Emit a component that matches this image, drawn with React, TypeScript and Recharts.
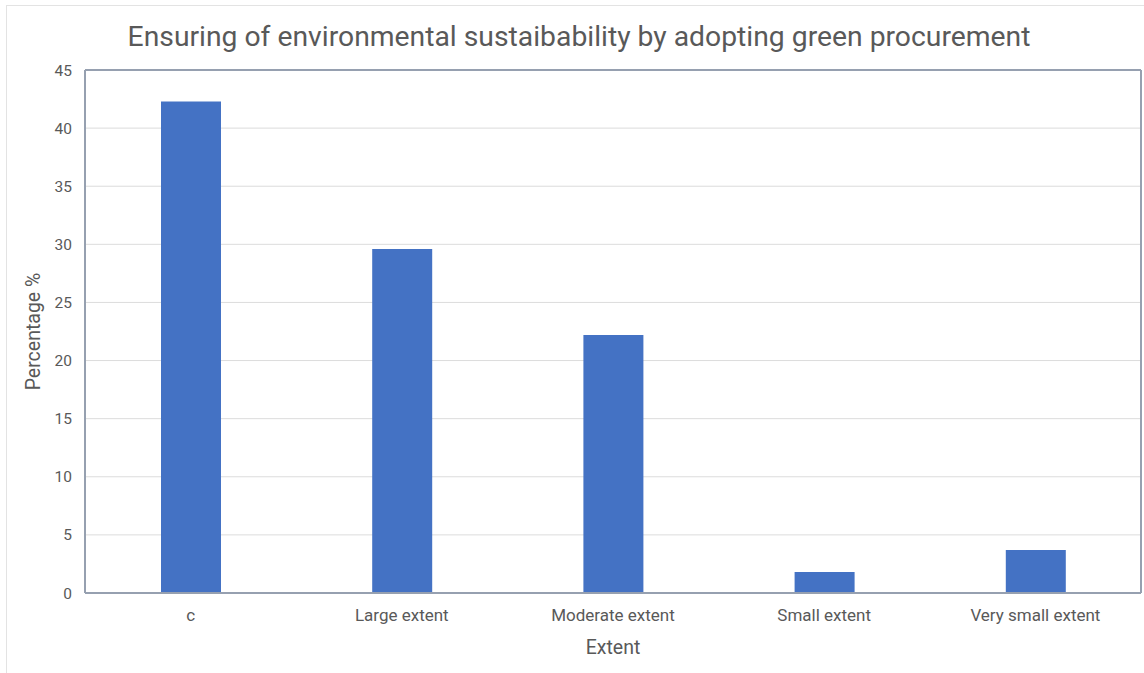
import React from 'react';
import { BarChart, Bar, XAxis, YAxis, CartesianGrid, ReferenceLine, Label } from 'recharts';

document.body.style.margin = '0';

const categories = ['c', 'Large extent', 'Moderate extent', 'Small extent', 'Very small extent'];
const percentages = [42.3, 29.6, 22.2, 1.8, 3.7];
const yTicks = [0, 5, 10, 15, 20, 25, 30, 35, 40, 45];

const chartData = categories.map((name, i) => ({ name, value: percentages[i] }));

const axisColor = '#96a0b0';
const textColor = '#595959';
const font = 'Roboto, "Noto Sans", sans-serif';

const App: React.FC = () => {
  return (
    <div style={{ position: 'relative', width: 1144, height: 673, background: '#fff', overflow: 'hidden', fontFamily: font }}>
      <div
        style={{
          position: 'absolute',
          left: 6,
          top: 5,
          width: 1150,
          height: 680,
          border: '1px solid #e3e3e3',
          boxSizing: 'border-box',
        }}
      />
      <div
        style={{
          position: 'absolute',
          top: 20,
          left: 0,
          width: 1158,
          textAlign: 'center',
          fontSize: 28.3,
          color: textColor,
        }}
      >
        Ensuring of environmental sustaibability by adopting green procurement
      </div>
      <div style={{ position: 'absolute', left: 0, top: 0 }}>
        <BarChart
          width={1144}
          height={673}
          data={chartData}
          margin={{ top: 70, right: 0, left: 0, bottom: 0 }}
        >
          <CartesianGrid vertical={false} stroke="#dcdcdc" />
          <XAxis
            dataKey="name"
            height={80}
            tickLine={false}
            axisLine={{ stroke: axisColor, strokeWidth: 2 }}
            tick={{ fill: textColor, fontSize: 17, fontFamily: font }}
            tickMargin={10}
          >
            <Label value="Extent" position="insideBottom" offset={19} style={{ fill: textColor, fontSize: 19.5, fontFamily: font }} />
          </XAxis>
          <YAxis
            width={85}
            domain={[0, 45]}
            ticks={yTicks}
            tickLine={false}
            tickSize={0}
            tickMargin={13}
            axisLine={{ stroke: axisColor, strokeWidth: 2 }}
            tick={{ fill: textColor, fontSize: 15.5, fontFamily: font }}
          >
            <Label
              value="Percentage %"
              angle={-90}
              position="insideLeft"
              offset={33}
              style={{ fill: textColor, fontSize: 19.5, fontFamily: font, textAnchor: 'middle' }}
            />
          </YAxis>
          <YAxis
            yAxisId="right"
            orientation="right"
            width={3}
            tick={false}
            tickLine={false}
            axisLine={{ stroke: axisColor, strokeWidth: 2 }}
          />
          <ReferenceLine y={45} stroke={axisColor} strokeWidth={2} />
          <Bar dataKey="value" fill="#4472c4" barSize={60} isAnimationActive={false} />
        </BarChart>
      </div>
    </div>
  );
};

export default App;
